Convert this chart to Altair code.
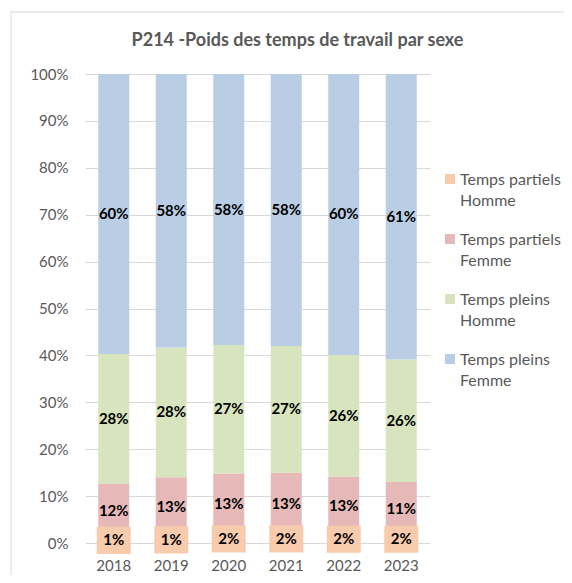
import altair as alt
import pandas as pd

years = ["2018", "2019", "2020", "2021", "2022", "2023"]
series = ["Temps partiels Homme", "Temps partiels Femme", "Temps pleins Homme", "Temps pleins Femme"]
partiels_homme = [1.1, 1.3, 1.7, 1.8, 1.6, 1.6]
partiels_femme = [11.6, 12.7, 13.1, 13.2, 12.6, 11.4]
pleins_homme = [27.6, 27.7, 27.4, 27.0, 25.9, 26.1]
pleins_femme = [59.7, 58.3, 57.8, 58.0, 59.9, 60.9]
colors = ["#F8CBAD", "#E6B9B8", "#D7E4BD", "#B9CDE5"]

rows = []
for idx, (name, vals) in enumerate(zip(series, [partiels_homme, partiels_femme, pleins_homme, pleins_femme])):
    for y, v in zip(years, vals):
        rows.append({"year": y, "series": name, "idx": idx, "value": v})
df = pd.DataFrame(rows)

FONT = "Lato"
GREY = "#595959"

base = alt.Chart(df).transform_stack(
    stack="value", groupby=["year"], as_=["v0", "v1"], sort=[alt.SortField("idx", order="ascending")]
).transform_calculate(
    mid="(datum.v0 + datum.v1) / 2",
    label="format(datum.value, '.0f') + '%'",
)

xenc = alt.X("year:N", title=None, sort=years,
             scale=alt.Scale(paddingInner=0.46, paddingOuter=0.23),
             axis=alt.Axis(labelAngle=0, domain=False, ticks=False, labelPadding=15,
                           labelFontSize=15, labelColor=GREY, labelFont=FONT))
yscale = alt.Scale(domain=[0, 100], nice=False)

bars = base.mark_bar(width=31).encode(
    x=xenc,
    y=alt.Y("v0:Q", title=None, scale=yscale,
            axis=alt.Axis(values=list(range(0, 101, 10)), labelExpr="datum.value + '%'",
                          domain=False, ticks=False, labelPadding=17, labelFontSize=15,
                          labelColor=GREY, labelFont=FONT, gridColor="#D9D9D9", gridWidth=1)),
    y2="v1:Q",
    color=alt.Color("series:N", scale=alt.Scale(domain=series, range=colors),
                    legend=alt.Legend(title=None, orient="none", legendX=357, legendY=90,
                                      symbolType="M-1,0.4L1,0.4L1,2.4L-1,2.4Z",
                                      symbolSize=100, symbolStrokeWidth=0,
                                      labelFontSize=16, labelColor=GREY, labelFont=FONT,
                                      labelOffset=2, rowPadding=15, labelBaseline="top",
                                      labelExpr="[slice(datum.label, 0, lastindexof(datum.label, ' ')), slice(datum.label, lastindexof(datum.label, ' ') + 1)]",
                                      labelLimit=200)),
    order=alt.Order("idx:Q", sort="ascending"),
)

boxes = base.transform_filter("datum.idx == 0").mark_point(
    shape="M-1,-0.8L1,-0.8L1,0.8L-1,0.8Z", size=1156, filled=True, fill=colors[0],
    opacity=1, strokeWidth=0,
).encode(x=alt.X("year:N", sort=years), y=alt.Y("mid:Q", scale=yscale))

texts = base.mark_text(font=FONT, fontSize=15, fontWeight="bold", color="black").encode(
    x=alt.X("year:N", sort=years), y=alt.Y("mid:Q", scale=yscale), text="label:N"
)

border = alt.Chart(pd.DataFrame({"a": [0]})).mark_rect(
    fillOpacity=0, stroke="#D9D9D9", strokeWidth=1
).encode(x=alt.value(-74), x2=alt.value(520), y=alt.value(-62), y2=alt.value(560))

chart = alt.layer(border, bars, boxes, texts).properties(
    width=345, height=469,
    autosize=alt.AutoSizeParams(type="none"),
    padding={"left": 77, "top": 66, "right": 134, "bottom": 32},
    title=alt.TitleParams("P214 -Poids des temps de travail par sexe", font=FONT, fontSize=18,
                          fontWeight="bold", color=GREY, anchor="middle", dx=40, offset=-47,
                          baseline="middle"),
).configure(style={"guide-label": {"lineHeight": 21}}).configure_view(stroke=None)

chart.save("out.html", embed_options={"renderer": "svg", "actions": False})
